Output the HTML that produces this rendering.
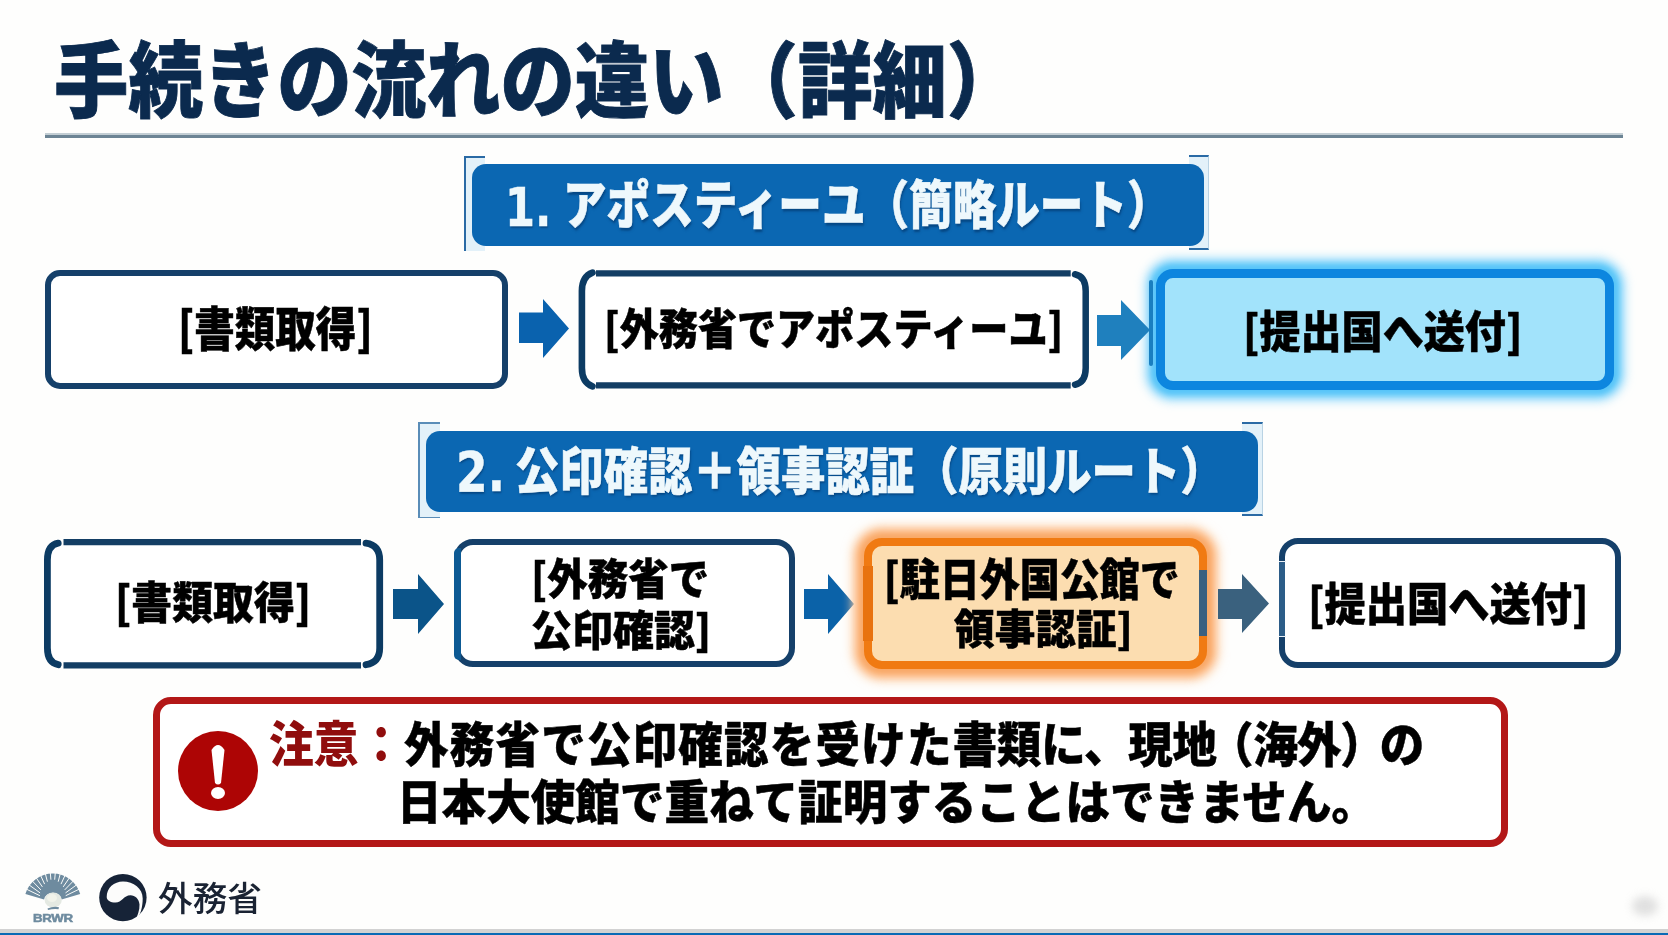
<!DOCTYPE html>
<html lang="ja">
<head>
<meta charset="utf-8">
<title>手続きの流れの違い（詳細）</title>
<style>
html,body{margin:0;padding:0;}
body{width:1668px;height:935px;position:relative;overflow:hidden;background:#fefefd;
 font-family:"Liberation Sans","Noto Sans CJK JP",sans-serif;}
.abs{position:absolute;}
.t{position:absolute;white-space:nowrap;line-height:1;font-weight:900;transform-origin:0 0;color:#000;}
.k{font-family:"Noto Sans CJK JP","Liberation Sans",sans-serif;}
.bt{-webkit-text-stroke:0.45px #000;}
.box{position:absolute;box-sizing:border-box;background:#fff;border:6px solid #15406a;border-radius:15px;}
.bn{-webkit-text-stroke:0.5px #eef8fc;text-shadow:1px 2px 2px rgba(0,45,95,.55);}
.banner{position:absolute;background:#0b67b2;border-radius:14px;}
.brk{position:absolute;box-sizing:border-box;background:#e3f1f9;}
</style>
</head>
<body>

<!-- title -->
<div class="t" id="title" style="left:54.4px;top:42.0px;font-size:75px;color:#0b2a4e;-webkit-text-stroke:0.8px #0b2a4e;transform:scale(0.992,1.100);">手続きの流れの違い（詳細）</div>
<div class="abs" style="left:45px;top:133px;width:1578px;height:2px;background:#c3ced4;"></div>
<div class="abs" style="left:45px;top:135px;width:1578px;height:2.5px;background:#6c8494;"></div>

<!-- banner 1 -->
<div class="brk" style="left:464px;top:156px;width:21px;height:95px;border-left:2px solid #2a6aa5;border-top:2px solid #2a6aa5;"></div>
<div class="brk" style="left:1189px;top:155px;width:20px;height:95px;border-top:2px solid #2a6aa5;border-bottom:2px solid #2a6aa5;border-right:1px solid #b9d3e4;"></div>
<div class="banner" style="left:472px;top:164px;width:732px;height:82px;"></div>
<div class="t bn" id="b1n" style="left:504.8px;top:181.0px;font-size:54px;font-weight:700;font-family:'DejaVu Sans',sans-serif;color:#eef8fc;transform:scale(0.800,1.000);">1.</div>
<div class="t bn" id="b1t" style="left:563.0px;top:181.1px;font-size:43.5px;color:#eef8fc;transform:scale(1.002,1.204);">アポスティーユ（簡略ルート）</div>

<!-- row 1 -->
<div class="box" style="left:45px;top:270px;width:463px;height:119px;"></div>
<div class="t bt" id="r1a" style="left:178.0px;top:301.9px;font-size:41px;transform:scale(0.989,1.150);"><span class="k">[</span>書類取得<span class="k">]</span></div>

<svg class="abs" style="left:519px;top:299px;" width="50" height="59" viewBox="0 0 50 59"><path d="M0 13.5H24V0L50 29.5L24 59V44H0Z" fill="#0a62ae"/></svg>

<svg class="abs" style="left:0;top:0;" width="1668" height="935" viewBox="0 0 1668 935" fill="none" stroke-linecap="round">
<rect x="582" y="273" width="504" height="113" rx="10" fill="#fff"/>
<path d="M592.5 272.6Q581.9 276.500 581.9 291V368Q581.9 382.500 592.500 386.400" stroke="#0c3b63" stroke-width="6.600"/>
<path d="M1075 274.300Q1085.700 276.500 1085.700 291V368Q1085.700 382.500 1075 384.700" stroke="#0c3b63" stroke-width="6.500"/>
<path d="M596 273.400H1070.700M596 385.400H1070.700" stroke="#133e64" stroke-width="6.400" stroke-linecap="butt"/>
</svg>
<div class="t bt" id="r1b" style="left:604.2px;top:304.6px;font-size:41px;transform:scale(0.954,1.061);"><span class="k">[</span>外務省でアポスティーユ<span class="k">]</span></div>

<div class="box" style="left:1156px;top:269px;width:458px;height:121px;background:#a2e3fb;border:9px solid #0d86df;border-radius:17px;box-shadow:0 0 4px 4px #58c5f8, 0 0 6px 8px #7bd2fa, 0 0 9px 13px rgba(160,222,252,.6);"></div>
<svg class="abs" style="left:1097px;top:300px;" width="53" height="60" viewBox="0 0 53 60"><path d="M0 15H24V0L53 30L24 60V46H0Z" fill="#1f80be"/></svg>

<div class="abs" style="left:1148.5px;top:280px;width:4.5px;height:86px;border-radius:2px;background:#1a7fc0;"></div>

<div class="t bt" id="r1c" style="left:1243.2px;top:307.1px;font-size:41px;transform:scale(1.002,1.078);"><span class="k">[</span>提出国へ送付<span class="k">]</span></div>

<!-- banner 2 -->
<div class="brk" style="left:418px;top:422px;width:22px;height:96px;border-left:2px solid #5a8db8;border-top:2px solid #5a8db8;border-bottom:1px solid #5a8db8;"></div>
<div class="brk" style="left:1242px;top:422px;width:21px;height:94px;border-top:2px solid #2a6aa5;border-bottom:2px solid #2a6aa5;border-right:1px solid #b9d3e4;"></div>
<div class="banner" style="left:426px;top:431px;width:832px;height:81px;"></div>
<div class="t bn" id="b2n" style="left:455.9px;top:445.9px;font-size:54px;font-weight:700;font-family:'DejaVu Sans',sans-serif;color:#eef8fc;transform:scale(0.842,1.007);">2.</div>
<div class="t bn" id="b2t" style="left:515.0px;top:446.8px;font-size:44px;color:#eef8fc;transform:scale(1.008,1.162);">公印確認＋領事認証（原則ルート）</div>

<!-- row 2 -->
<svg class="abs" style="left:0;top:0;" width="1668" height="935" viewBox="0 0 1668 935" fill="none" stroke-linecap="round">
<rect x="47" y="542" width="333" height="123" rx="14" fill="#fff"/>
<path d="M58.2 543.1Q47.4 545 47.4 560V648Q47.4 662.500 58.2 664.700" stroke="#0c3b63" stroke-width="6.800"/>
<path d="M366 543.1Q379.700 545 379.700 560V648Q379.700 662.500 366 664.700" stroke="#0c3b63" stroke-width="6.800"/>
<path d="M63.5 542.200H361M63.500 665.300H361" stroke="#133e64" stroke-width="6.200" stroke-linecap="butt"/>
</svg>
<div class="t bt" id="r2a" style="left:114.6px;top:578.2px;font-size:41px;transform:scale(0.997,1.073);"><span class="k">[</span>書類取得<span class="k">]</span></div>

<svg class="abs" style="left:392.5px;top:574px;" width="51" height="60" viewBox="0 0 51 60"><path d="M0 15H25V0L51 30L25 60V45H0Z" fill="#0b5489"/></svg>

<div class="box" style="left:454px;top:539px;width:341px;height:128px;border-radius:19px;"></div>
<div class="abs" style="left:453.8px;top:548px;width:6.8px;height:112px;background:#0d5a94;border-radius:5px 0 0 5px;"></div>
<div class="t bt" id="r2b1" style="left:531.0px;top:555.2px;font-size:40px;transform:scale(1.012,1.075);"><span class="k">[</span>外務省で</div>
<div class="t bt" id="r2b2" style="left:531.0px;top:607.4px;font-size:40px;transform:scale(1.024,1.056);">公印確認<span class="k">]</span></div>

<svg class="abs" style="left:804px;top:574px;" width="50" height="60" viewBox="0 0 50 60"><path d="M0 15H24V0L50 30L24 60V45H0Z" fill="#0b62a8"/></svg>

<div class="box" style="left:864px;top:538px;width:343px;height:131px;background:#fcddb0;border:8.5px solid #f07a12;border-radius:18px;box-shadow:0 0 4px 4px #f9a968, 0 0 6px 9px #fcbb86, 0 0 9px 14px rgba(253,208,168,.6);"></div>
<div class="abs" style="left:1199px;top:570px;width:8px;height:66px;background:#3a6080;"></div>
<div class="abs" style="left:862.7px;top:566px;width:10px;height:75px;background:#e8720f;"></div>
<div class="t bt" id="r2c1" style="left:883.8px;top:554.9px;font-size:40px;transform:scale(1.000,1.115);"><span class="k">[</span>駐日外国公館で</div>
<div class="t bt" id="r2c2" style="left:954.0px;top:606.1px;font-size:40px;transform:scale(1.016,1.032);">領事認証<span class="k">]</span></div>

<svg class="abs" style="left:1218px;top:574px;" width="51" height="59" viewBox="0 0 51 59"><path d="M0 15H24V0L51 29.5L24 59V45H0Z" fill="#3a617e"/></svg>

<div class="box" style="left:1279px;top:538px;width:342px;height:130px;border-radius:19px;"></div>
<div class="abs" style="left:1279px;top:562px;width:6px;height:74px;background:#2c5d88;"></div>
<div class="abs" style="left:1279px;top:560.5px;width:7px;height:1.5px;background:#e9f0f6;"></div>
<div class="abs" style="left:1279px;top:635.5px;width:7px;height:1.5px;background:#e9f0f6;"></div>
<div class="t bt" id="r2d" style="left:1308.2px;top:579.0px;font-size:41px;transform:scale(1.006,1.096);"><span class="k">[</span>提出国へ送付<span class="k">]</span></div>

<!-- warning -->
<div class="box" style="left:153px;top:697px;width:1355px;height:150px;border:7px solid #b31717;border-radius:18px;"></div>
<div class="abs" style="left:178px;top:731px;width:80px;height:80px;border-radius:50%;background:#ad0505;"></div>
<svg class="abs" style="left:178px;top:731px;" width="80" height="80" viewBox="0 0 80 80"><path d="M33.5 19 Q40 9 46.500 19 L43 52 Q40 55 37 52Z" fill="#fff"/><ellipse cx="40" cy="62" rx="7" ry="6" fill="#fff"/></svg>
<div class="t" id="w0" style="left:269.0px;top:721.4px;font-size:44.3px;color:#900d0d;transform:scale(1.013,1.107);">注意：</div>
<div class="t bt" id="w1" style="left:404.4px;top:722.1px;font-size:44.3px;transform:scale(1.005,1.090);"><span style="letter-spacing:1.2px">外務省で公印確認を受けた</span><span style="letter-spacing:-0.3px">書類に、現</span><span style="letter-spacing:-8px">地</span>（<span style="letter-spacing:-1.1px">海外</span><span style="letter-spacing:-5px">）</span>の</div>
<div class="t bt" id="w2" style="left:396.6px;top:779.8px;font-size:44.3px;transform:scale(1.006,1.058);">日本大使館で重ねて証明することはできません。</div>

<!-- footer -->
<div class="abs" style="left:1632px;top:896px;width:26px;height:20px;border-radius:50%;background:#d4d4d4;filter:blur(4px);opacity:.7;"></div>
<svg class="abs" style="left:0;top:860px;" width="300" height="70" viewBox="0 860 300 70">
<path d="M44.1 899.5L25.4 894.1A28.5 28.5 0 0 1 80.2 894.1L61.5 899.5A9 9 0 0 0 44.1 899.5Z" fill="#6e8b9f"/>
<path d="M39.9 895.7L26.3 889.1M40.1 892.9L28.9 884.8M40.9 889.9L32.2 880.9M42.4 886.9L36.1 877.7M44.6 884.1L40.5 875.2M47.4 881.7L45.3 873.5M50.9 879.7L50.3 872.6M54.7 879.7L55.3 872.6M58.2 881.7L60.3 873.5M61.0 884.1L65.1 875.2M63.2 886.9L69.5 877.7M64.7 889.9L73.4 880.9M65.5 892.9L76.7 884.8M65.7 895.7L79.3 889.1" stroke="#fbfcfa" stroke-width="1" fill="none"/>
<ellipse cx="53.2" cy="900" rx="8.6" ry="7.6" fill="#e4e9e2"/>
<ellipse cx="52" cy="898" rx="5" ry="4" fill="#f1f3ea"/>
<path d="M47.5 908.6Q53 906 59 907.2L58.5 909.2Q53 908.600 48 910Z" fill="#6e8b9f"/>
<circle cx="122.900" cy="897.600" r="23.700" fill="#162337"/>
<path d="M106.700 897C106.700 888 114 881.600 123 881.600C133.500 881.600 142.700 888.500 142.700 898.500C142.700 907 140.500 915.500 135.300 921C137.500 916 139.800 910 139.500 904.600C139.200 899 135 895.200 130.500 895.200C123.500 895.200 122 902.600 115.500 902.600C110.500 902.600 106.700 900.500 106.700 897Z" fill="#fcfcfb"/>
</svg>
<div class="t" id="lg" style="left:33px;top:912.5px;font-size:10.5px;font-weight:700;color:#6e8b9f;letter-spacing:-0.2px;transform:scale(1.26,1);-webkit-text-stroke:0.5px #6e8b9f;">BRWR</div>

<div class="t" id="ft" style="left:158.0px;top:882.0px;font-size:34px;font-weight:500;color:#1a2333;transform:scale(1.020,1.013);">外務省</div>
<div class="abs" style="left:0;top:929px;width:1668px;height:4px;background:#d2d2d2;"></div>
<div class="abs" style="left:0;top:932.5px;width:1668px;height:3px;background:#0a6ab5;"></div>

</body>
</html>
